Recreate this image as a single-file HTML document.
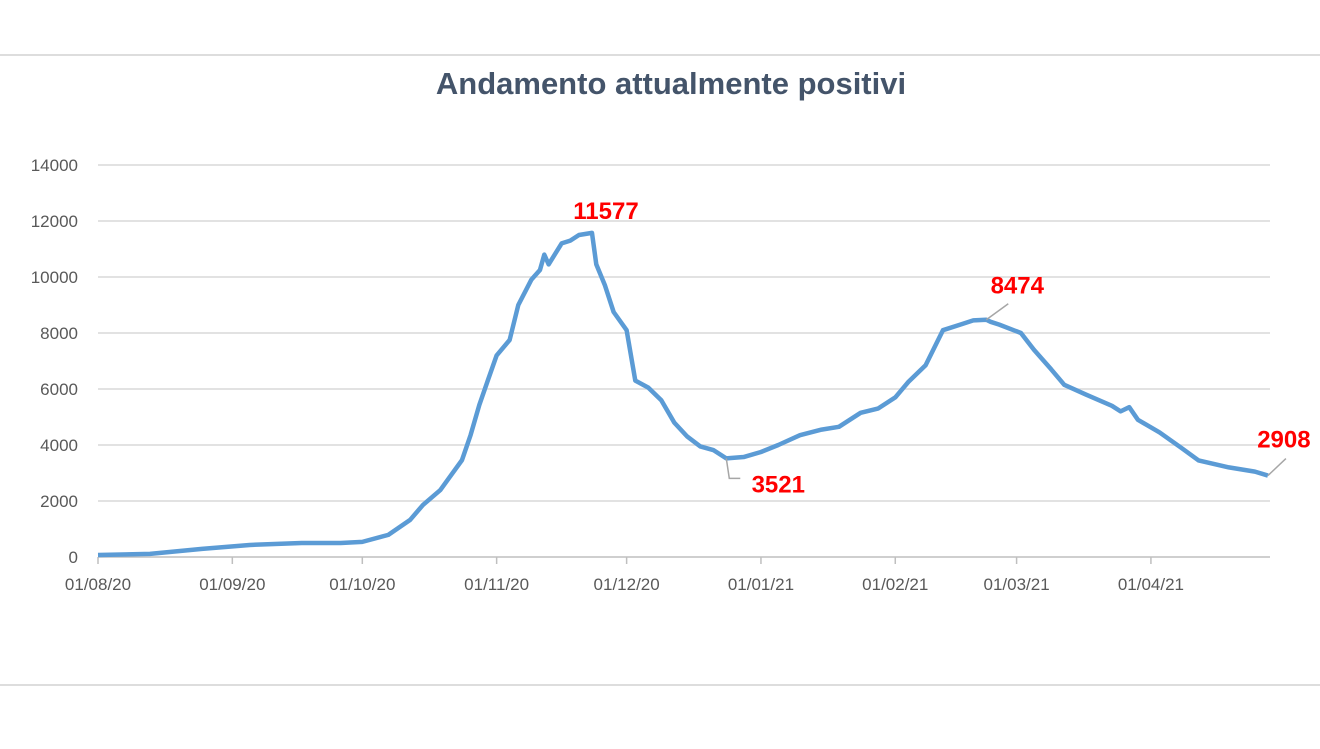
<!DOCTYPE html>
<html><head><meta charset="utf-8"><style>
body{margin:0;background:#fff;}
svg{display:block;font-family:"Liberation Sans",sans-serif;}
</style></head><body>
<svg id="chart" width="1320" height="749">
<line x1="0" y1="55" x2="1320" y2="55" stroke="#ddd" stroke-width="2"/>
<line x1="0" y1="685" x2="1320" y2="685" stroke="#ddd" stroke-width="2"/>
<text x="671" y="94" text-anchor="middle" font-size="31" font-weight="bold" fill="#44546a">Andamento attualmente positivi</text>
<g id="grid"></g><g id="axes"></g><g id="series"></g><g id="labels"></g>
</svg>
<script>
const days=[0,12,24,35,47,56,61,67,72,75,79,81,84,86,88,90,92,95,97,100,102,103,104,107,109,111,114,115,117,119,122,124,127,130,133,136,139,142,145,149,153,157,162,167,171,176,180,184,187,191,195,199,202,205,206,208,213,216,220,223,228,234,236,238,240,245,250,254,261,267,270];
const values=[70,110,290,430,500,500,540,790,1320,1860,2390,2820,3460,4360,5430,6320,7200,7750,9000,9900,10250,10800,10450,11200,11300,11500,11577,10450,9700,8750,8100,6300,6050,5600,4800,4300,3950,3820,3521,3570,3750,4000,4350,4550,4650,5150,5300,5700,6250,6850,8100,8300,8450,8474,8400,8300,8000,7400,6700,6150,5800,5400,5200,5350,4900,4450,3900,3450,3200,3050,2908];
const yTicks=[0,2000,4000,6000,8000,10000,12000,14000];
const xTickDays=[0,31,61,92,122,153,184,212,243];
const xTickLabels=["01/08/20","01/09/20","01/10/20","01/11/20","01/12/20","01/01/21","01/02/21","01/03/21","01/04/21"];
const annotations=[{i:26,text:"11577"},{i:38,text:"3521"},{i:53,text:"8474"},{i:70,text:"2908"}];
const ns="http://www.w3.org/2000/svg";
const X=d=>98+d*4.333;
const Y=v=>557-v*0.028;
function mk(t,a,p){const e=document.createElementNS(ns,t);for(const k in a)e.setAttribute(k,a[k]);p.appendChild(e);return e;}
const grid=document.getElementById('grid'),axes=document.getElementById('axes'),ser=document.getElementById('series'),lab=document.getElementById('labels');
yTicks.forEach(v=>{
 const l=mk('line',{x1:98,x2:1270,y1:Y(v),y2:Y(v),stroke:v?'#d9d9d9':'#bfbfbf','stroke-width':1.5},grid);
 
 
 const t=mk('text',{x:78,y:Y(v)+6,'text-anchor':'end','font-size':17,fill:'#595959'},axes);
 t.textContent=v;
 
 
});
xTickDays.forEach((d,i)=>{
 const l=mk('line',{x1:X(d),x2:X(d),y1:557,y2:564,stroke:'#bfbfbf','stroke-width':1.5},axes);
 
 
 const t=mk('text',{x:X(d),y:590,'text-anchor':'middle','font-size':17,fill:'#595959'},axes);
 t.textContent=xTickLabels[i];
 
 
});
const p=mk('path',{d:days.map((d,i)=>(i?'L':'M')+X(d)+','+Y(values[i])).join(''),fill:'none',stroke:'#5b9bd5','stroke-width':4.5,'stroke-linejoin':'round'},ser);


const offs={26:[14,-22,null],38:[52,26,[[3,20],[14,20]]],53:[31,-34,[[22,-16]]],70:[16,-36,[[18,-17]]]};
annotations.forEach(a=>{
 const x=X(days[a.i]),y=Y(values[a.i]);const o=offs[a.i];
 if(o[2]){const pts=[[x,y]].concat(o[2].map(q=>[x+q[0],y+q[1]]));
  const l=mk('polyline',{points:pts.map(q=>q.join(',')).join(' '),fill:'none',stroke:'#a6a6a6','stroke-width':1.5},lab);
  
  }
 const t=mk('text',{x:x+o[0],y:y+o[1]+8,'text-anchor':'middle','font-size':24,'font-weight':'bold',fill:'#ff0000'},lab);
 t.textContent=a.text;
 
 
});
</script>
</body></html>
